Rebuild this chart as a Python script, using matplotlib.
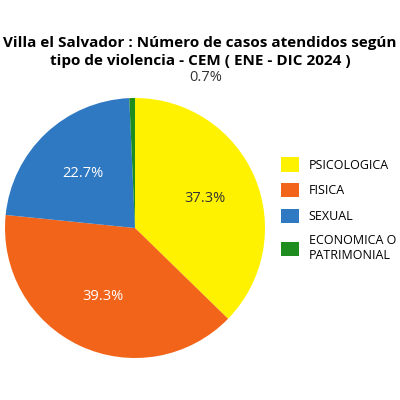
import matplotlib
matplotlib.use("Agg")
import matplotlib.pyplot as plt
import numpy as np

categories = ["PSICOLOGICA", "FISICA", "SEXUAL", "ECONOMICA O\nPATRIMONIAL"]
values = [37.3, 39.3, 22.7, 0.7]
colors = ["#FFF200", "#F26419", "#2F78C2", "#1E8C1E"]

plt.rcParams['font.family'] = ['Open Sans', 'DejaVu Sans']
fig = plt.figure(figsize=(4, 4), dpi=100)
ax = fig.add_axes([0.0125, 0.105, 0.65, 0.65])
wedges, texts = ax.pie(values, colors=colors, startangle=90, counterclock=False,
                       wedgeprops=dict(linewidth=0))
for w, v, tc in zip(wedges[:3], values[:3], ["#333333", "white", "white"]):
    ang = np.deg2rad((w.theta1 + w.theta2) / 2)
    ax.text(0.58*np.cos(ang), 0.58*np.sin(ang), f"{v}%", ha="center", va="center",
            color=tc, fontsize=10.5)
w = wedges[3]
ang = np.deg2rad((w.theta1 + w.theta2) / 2)
ax.annotate("", xy=(0.3, 1.14), xytext=(np.cos(ang), np.sin(ang)),
            arrowprops=dict(arrowstyle="-|>", color="#1E8C1E", lw=1, mutation_scale=7))
ax.text(0.42, 1.16, f"{values[3]}%", fontsize=10.5, color="#333333", va="center")
ax.set_xlim(-1, 1); ax.set_ylim(-1, 1)
fig.text(0.5, 0.87, "Villa el Salvador : Número de casos atendidos según\ntipo de violencia - CEM ( ENE - DIC 2024 )",
         ha="center", va="center", fontsize=11, fontweight="bold", linespacing=1.45)
fig.legend(wedges, categories, loc="upper left", bbox_to_anchor=(0.675, 0.635),
           frameon=False, fontsize=9, handlelength=1.4, handleheight=1.4,
           labelspacing=0.9, handletextpad=0.8)
fig.savefig("out.png", dpi=100, facecolor="white")
